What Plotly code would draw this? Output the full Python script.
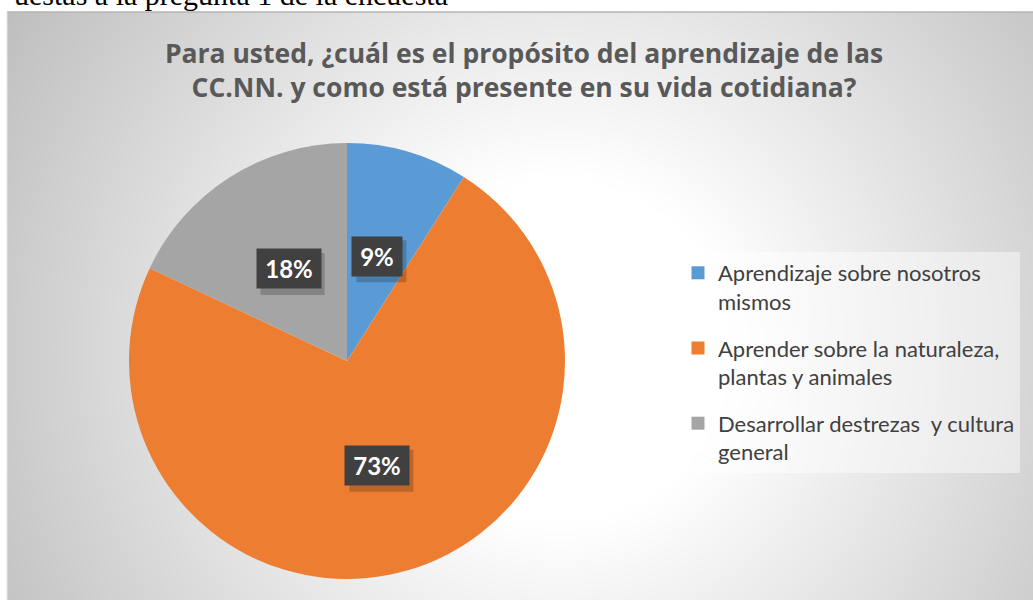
import numpy as np
import plotly.graph_objects as go

categories = ['Aprendizaje sobre nosotros<br>mismos',
              'Aprender sobre la naturaleza,<br>plantas y animales',
              'Desarrollar destrezas  y cultura<br>general']
values = [9, 73, 18]
colors = ['#5B9BD5', '#ED7D31', '#A5A5A5']

W, H = 1033, 600
# pie placement in pixels
cx, cy, R = 347, 361, 218

# background gradient of the chart area (style only)
gx = np.linspace(7, W, 60)
gy = np.linspace(12, H, 36)
X, Y = np.meshgrid(gx, gy)
d = np.sqrt((X - 560) ** 2 + (Y - 350) ** 2)
shade = np.clip(255 - 0.135 * np.clip(d - 170, 0, None), 190, 255)

fig = go.Figure()
fig.add_trace(go.Heatmap(x=gx, y=H - gy, z=shade, zmin=190, zmax=255, zsmooth='best',
                         colorscale=[[0, 'rgb(190,190,190)'], [1, 'rgb(255,255,255)']],
                         showscale=False, hoverinfo='skip', showlegend=False))

fig.add_trace(go.Pie(labels=categories, values=values, sort=False, direction='clockwise',
                     rotation=0, marker=dict(colors=colors, line=dict(width=0)),
                     textinfo='none', hoverinfo='label+percent', showlegend=False,
                     domain=dict(x=[(cx - R) / W, (cx + R) / W], y=[(H - cy - R) / H, (H - cy + R) / H])))

# legend entries (one group each so the spacing can be set)
for name, col in zip(categories, colors):
    fig.add_trace(go.Scatter(x=[None], y=[None], mode='markers', name=name, legendgroup=name,
                             marker=dict(symbol='square', size=13, color=col)))

# percentage labels at half radius, mid-angle of each slice
total = sum(values)
cum = 0
for v in values:
    mid = (cum + v / 2) / total * 2 * np.pi
    cum += v
    lx = cx + 0.5 * R * np.sin(mid)
    ly = cy - 0.5 * R * np.cos(mid)
    txt = '%d%%' % round(v / total * 100)
    bw = 14 * len(txt) + 12
    fig.add_shape(type='rect', xref='paper', yref='paper', line=dict(width=0),
                  fillcolor='rgba(0,0,0,0.2)',
                  x0=(lx - bw / 2 - 5 + 4) / W, x1=(lx + bw / 2 + 5 + 4) / W,
                  y0=1 - (ly + 21 + 5) / H, y1=1 - (ly - 21 + 5) / H)
    fig.add_annotation(x=lx / W, y=1 - ly / H, xref='paper', yref='paper', xanchor='center', yanchor='middle',
                       text='<b>%s</b>' % txt, showarrow=False, width=bw,
                       font=dict(family='Lato', size=24, color='white'),
                       bgcolor='#404040', borderpad=5)

# clipped caption above the chart
fig.add_annotation(x=450 / W, y=1 - 13 / H, xref='paper', yref='paper', xanchor='right', yanchor='bottom',
                   text='uestas a la pregunta 1 de la encuesta', showarrow=False,
                   font=dict(family='Liberation Serif', size=30, color='black'))

fig.add_shape(type='line', xref='paper', yref='paper', x0=7 / W, x1=1, y0=1 - 12 / H, y1=1 - 12 / H,
              line=dict(color='#b5b5b5', width=1.5))
fig.add_shape(type='line', xref='paper', yref='paper', x0=7 / W, x1=7 / W, y0=0, y1=1 - 12 / H,
              line=dict(color='#e6e6e6', width=1))

fig.update_layout(
    width=W, height=H, margin=dict(l=0, r=0, t=0, b=0),
    paper_bgcolor='white', plot_bgcolor='white',
    xaxis=dict(domain=[7 / W, 1], range=[7, W], visible=False, fixedrange=True),
    yaxis=dict(domain=[0, 1 - 12 / H], range=[0, H - 12], visible=False, fixedrange=True),
    title=dict(text='<b>Para usted, ¿cuál es el propósito del aprendizaje de las<br>CC.NN. y como está presente en su vida cotidiana?</b>',
               x=524 / W, xanchor='center', y=1 - 63 / H, yanchor='top',
               font=dict(family='Open Sans', size=26.5, color='#595959')),
    legend=dict(x=678 / W, y=1 - 252 / H, xanchor='left', yanchor='top', valign='top',
                bgcolor='rgba(255,255,255,0.45)', font=dict(family='Lato', size=22, color='#404040'),
                traceorder='grouped', tracegroupgap=15, itemwidth=30),
    showlegend=True,
)

fig.write_html("out.html", config={'displayModeBar': False},
               post_script="document.body.style.margin='0px';")
